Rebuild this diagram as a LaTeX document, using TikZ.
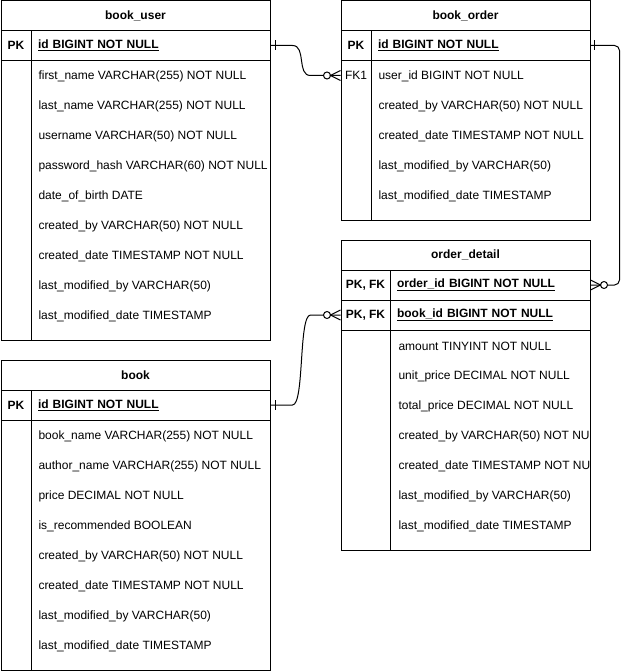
\documentclass[tikz,border=0pt]{standalone}
\usepackage{fontspec}
\setmainfont{Liberation Sans}
\usetikzlibrary{calc}
\newcommand{\erfont}{\fontsize{12}{14}\selectfont}

\begin{document}
\begin{tikzpicture}[
        x=1pt, y=-1pt, line width=1pt,
        font=\erfont,
        tabletitle/.style={draw, font=\erfont\bfseries, minimum width=#1, minimum height=30pt},
        keycell/.style={draw, font=\erfont\bfseries, minimum width=#1, minimum height=30pt},
        keyfield/.style={draw, font=\erfont\bfseries, text width=#1, inner xsep=7pt, minimum height=30pt, align=left},
        keytext/.style={minimum width=#1, minimum height=30pt},
        field/.style={anchor=west, inner sep=0pt}
    ]
    \useasboundingbox (0,0) rectangle (630,671);

    % Top left table - book_user
    \node[tabletitle=269pt] (bu-title) at (135.5,15.5) {book\_user};
    \node[keycell=30pt] (bu-pk) at (16,45.5) {PK};
    \node[keyfield=225pt] (bu-id) at (150.5,45.5) {\underline{id BIGINT NOT NULL}};
    \draw (1,60.5) rectangle (270,340);
    \draw (31,60.5) -- (31,340);
    \foreach \f [count=\i] in {first\_name VARCHAR(255) NOT NULL, last\_name VARCHAR(255) NOT NULL,
            username VARCHAR(50) NOT NULL, password\_hash VARCHAR(60) NOT NULL, date\_of\_birth DATE,
            created\_by VARCHAR(50) NOT NULL, created\_date TIMESTAMP NOT NULL,
            last\_modified\_by VARCHAR(50), last\_modified\_date TIMESTAMP}
        \node[field] (bu-f\i) at (38, 46+30*\i) {\f};

    % Top right table - book_order
    \node[tabletitle=249pt] (bo-title) at (465.5,15.5) {book\_order};
    \node[keycell=30pt] (bo-pk) at (356,45.5) {PK};
    \node[keyfield=205pt] (bo-id) at (480.5,45.5) {\underline{id BIGINT NOT NULL}};
    \draw (341,60.5) rectangle (590,220);
    \draw (371,60.5) -- (371,220);
    \node[keytext=30pt] (bo-fk) at (356,75.5) {FK1};
    \foreach \f [count=\i] in {user\_id BIGINT NOT NULL, created\_by VARCHAR(50) NOT NULL,
            created\_date TIMESTAMP NOT NULL, last\_modified\_by VARCHAR(50), last\_modified\_date TIMESTAMP}
        \node[field] (bo-f\i) at (378, 46+30*\i) {\f};

    % Right table - order_detail
    \node[tabletitle=249pt] (od-title) at (465.5,255) {order\_detail};
    \node[keycell=49pt] (od-pk1) at (365.5,285) {PK, FK};
    \node[keyfield=186pt] (od-oid) at (490,285) {\underline{order\_id BIGINT NOT NULL}};
    \node[keycell=49pt] (od-pk2) at (365.5,315) {PK, FK};
    \node[keyfield=186pt] (od-bid) at (490,315) {\underline{book\_id BIGINT NOT NULL}};
    \draw (341,330) rectangle (590,550);
    \draw (390,330) -- (390,550);
    \begin{scope}
        \clip (341,330) rectangle (589.5,550);
        \foreach \f [count=\i] in {amount TINYINT NOT NULL, unit\_price DECIMAL NOT NULL,
                total\_price DECIMAL NOT NULL, created\_by VARCHAR(50) NOT NULL,
                created\_date TIMESTAMP NOT NULL, last\_modified\_by VARCHAR(50), last\_modified\_date TIMESTAMP}
            \node[field] (od-f\i) at (398, 316+30*\i) {\f};
    \end{scope}

    % Bottom left table - book
    \node[tabletitle=269pt] (bk-title) at (135.5,375) {book};
    \node[keycell=30pt] (bk-pk) at (16,405) {PK};
    \node[keyfield=225pt] (bk-id) at (150.5,405) {\underline{id BIGINT NOT NULL}};
    \draw (1,420) rectangle (270,670);
    \draw (31,420) -- (31,670);
    \foreach \f [count=\i] in {book\_name VARCHAR(255) NOT NULL, author\_name VARCHAR(255) NOT NULL,
            price DECIMAL NOT NULL, is\_recommended BOOLEAN, created\_by VARCHAR(50) NOT NULL,
            created\_date TIMESTAMP NOT NULL, last\_modified\_by VARCHAR(50), last\_modified\_date TIMESTAMP}
        \node[field] (bk-f\i) at (38, 406+30*\i) {\f};

    % book_user -> book_order
    \draw (bu-id.east) -- ++(22,0) .. controls +(14,0) and +(-14,0) .. ($(bo-fk.west)+(-30,0)$) -- (bo-fk.west);
    \draw ($(bu-id.east)+(5,-5)$) -- ++(0,10);
    \draw[fill=white] ($(bo-fk.west)+(-13.5,0)$) circle (3.5pt);
    \draw ($(bo-fk.west)+(0,-5)$) -- ($(bo-fk.west)+(-10,0)$) -- ($(bo-fk.west)+(0,5)$);

    % book_order -> order_detail
    \draw[rounded corners=5pt] (bo-id.east) -- ++(29,0) |- (od-oid.east);
    \draw ($(bo-id.east)+(4,-5)$) -- ++(0,10);
    \draw[fill=white] ($(od-oid.east)+(13.5,0)$) circle (3.5pt);
    \draw ($(od-oid.east)+(0,-5)$) -- ($(od-oid.east)+(10,0)$) -- ($(od-oid.east)+(0,5)$);

    % book -> order_detail
    \draw (bk-id.east) -- ++(22,0) .. controls +(12,0) and +(-12,0) .. ($(od-pk2.west)+(-30,0)$) -- (od-pk2.west);
    \draw ($(bk-id.east)+(5,-5)$) -- ++(0,10);
    \draw[fill=white] ($(od-pk2.west)+(-13.5,0)$) circle (3.5pt);
    \draw ($(od-pk2.west)+(0,-5)$) -- ($(od-pk2.west)+(-10,0)$) -- ($(od-pk2.west)+(0,5)$);
\end{tikzpicture}
\end{document}
